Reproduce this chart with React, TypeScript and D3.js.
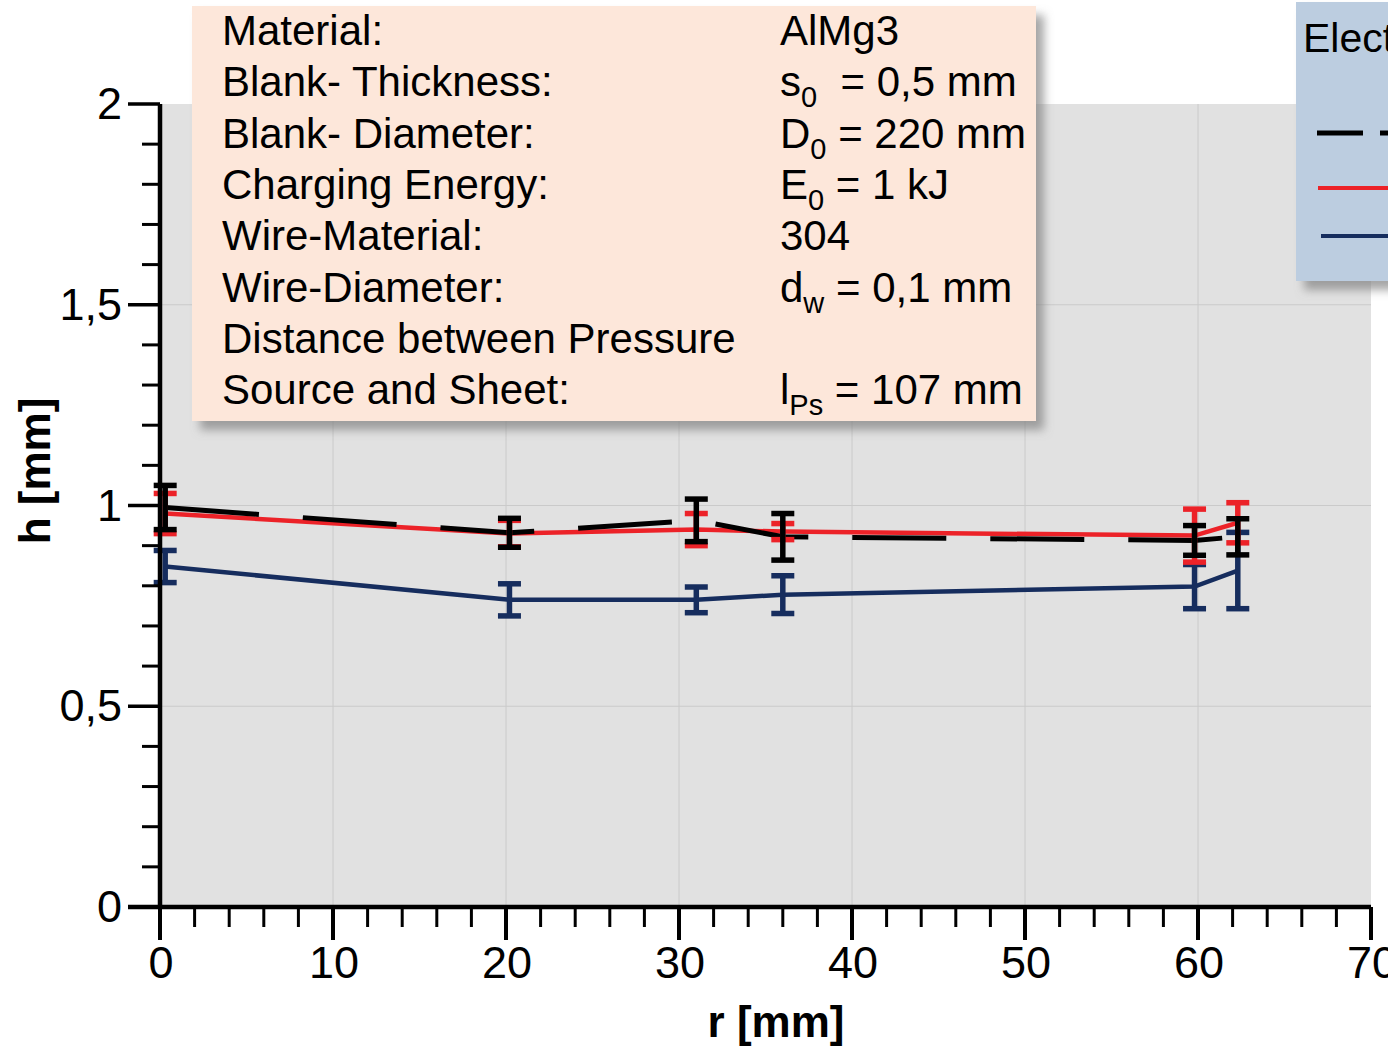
import React from "react";
import * as d3 from "d3";

// measuring points (radius r in mm)
const rValues = [0.3, 20.2, 31, 36, 59.8, 62.3];

// heights h in mm, with error bar half-widths
const blackH = [0.995, 0.932, 0.963, 0.922, 0.913, 0.922];
const blackErr = [0.055, 0.036, 0.053, 0.058, 0.037, 0.045];
const redH = [0.98, 0.93, 0.94, 0.935, 0.925, 0.957];
const redErr = [0.05, 0.033, 0.04, 0.02, 0.066, 0.05];
const blueH = [0.848, 0.765, 0.765, 0.778, 0.798, 0.838];
const blueErr = [0.04, 0.04, 0.032, 0.047, 0.055, 0.095];

const xTicks = [0, 10, 20, 30, 40, 50, 60, 70];
const yTicks = [0, 0.5, 1, 1.5, 2];
const yTickLabels = ["0", "0,5", "1", "1,5", "2"];

const infoLabels = [
  "Material:",
  "Blank- Thickness:",
  "Blank- Diameter:",
  "Charging Energy:",
  "Wire-Material:",
  "Wire-Diameter:",
  "Distance between Pressure",
  "Source and Sheet:",
];
// [main, subscript, rest]
const infoValues = [
  ["AlMg3", "", ""],
  ["s", "0", "  = 0,5 mm"],
  ["D", "0", " = 220 mm"],
  ["E", "0", " = 1 kJ"],
  ["304", "", ""],
  ["d", "w", " = 0,1 mm"],
  ["", "", ""],
  ["l", "Ps", " = 107 mm"],
];

const FONT = "'Liberation Sans', Arial, sans-serif";
const RED = "#ec2228";
const BLUE = "#162d5e";

const App = () => {
  const margin = { left: 160, top: 104, right: 1371, bottom: 907 };
  const x = d3.scaleLinear().domain([0, 70]).range([margin.left, margin.right]);
  const y = d3.scaleLinear().domain([0, 2]).range([margin.bottom, margin.top]);

  const line = d3
    .line<number>()
    .x((_, i) => x(rValues[i]))
    .y((d) => y(d));

  const minorX = d3.range(2, 70, 2).filter((v) => v % 10 !== 0);
  const minorY = d3.range(1, 20).filter((v) => v % 5 !== 0).map((v) => v / 10);

  const errorBars = (vals: number[], errs: number[], color: string) =>
    vals.map((v, i) => {
      const cx = x(rValues[i]);
      const y1 = y(v + errs[i]);
      const y2 = y(v - errs[i]);
      return (
        <g key={i} stroke={color} strokeWidth={5.5}>
          <line x1={cx} x2={cx} y1={y1} y2={y2} />
          <line x1={cx - 11.5} x2={cx + 11.5} y1={y1} y2={y1} />
          <line x1={cx - 11.5} x2={cx + 11.5} y1={y2} y2={y2} />
        </g>
      );
    });

  const rowY = (i: number) => 45 + i * 51.3;

  return (
    <svg
      width={1388}
      height={1047}
      style={{ position: "absolute", left: 0, top: 0, display: "block" }}
      fontFamily={FONT}
    >
      <defs>
        <filter id="shadow" x="-10%" y="-10%" width="130%" height="130%">
          <feDropShadow dx="8" dy="9" stdDeviation="5" floodColor="#808080" floodOpacity="0.7" />
        </filter>
      </defs>
      <rect width={1388} height={1047} fill="#fff" />

      {/* plot area */}
      <rect
        x={margin.left}
        y={margin.top}
        width={margin.right - margin.left}
        height={margin.bottom - margin.top}
        fill="#e1e1e1"
      />
      {xTicks.slice(1, -1).map((t) => (
        <line key={t} x1={x(t)} x2={x(t)} y1={margin.top} y2={margin.bottom} stroke="#cacaca" strokeWidth={1} />
      ))}
      {yTicks.slice(1, -1).map((t) => (
        <line key={t} x1={margin.left} x2={margin.right} y1={y(t)} y2={y(t)} stroke="#cacaca" strokeWidth={1} />
      ))}

      {/* series lines */}
      <path d={line(redH) ?? ""} fill="none" stroke={RED} strokeWidth={4.5} />
      <path d={line(blackH) ?? ""} fill="none" stroke="#000" strokeWidth={5} strokeDasharray="94 44" />
      <path d={line(blueH) ?? ""} fill="none" stroke={BLUE} strokeWidth={4.5} />

      {/* error bars */}
      {errorBars(blueH, blueErr, BLUE)}
      {errorBars(redH, redErr, RED)}
      {errorBars(blackH, blackErr, "#000")}

      {/* axes */}
      <g stroke="#000">
        <line x1={margin.left} x2={margin.left} y1={margin.top} y2={margin.bottom + 2} strokeWidth={4.5} />
        <line x1={128} x2={margin.right} y1={margin.bottom} y2={margin.bottom} strokeWidth={4.5} />
        {yTicks.map((t) => (
          <line key={t} x1={128} x2={margin.left} y1={y(t)} y2={y(t)} strokeWidth={3.5} />
        ))}
        {minorY.map((t) => (
          <line key={t} x1={142} x2={margin.left} y1={y(t)} y2={y(t)} strokeWidth={3} />
        ))}
        {xTicks.map((t) => (
          <line key={t} x1={x(t)} x2={x(t)} y1={margin.bottom} y2={940} strokeWidth={4} />
        ))}
        {minorX.map((t) => (
          <line key={t} x1={x(t)} x2={x(t)} y1={margin.bottom} y2={927} strokeWidth={3} />
        ))}
      </g>
      {yTicks.map((t, i) => (
        <text key={t} x={122} y={y(t) + 15} fontSize={45} textAnchor="end">
          {yTickLabels[i]}
        </text>
      ))}
      {xTicks.map((t) => (
        <text key={t} x={x(t) + 1} y={978} fontSize={45} textAnchor="middle">
          {t}
        </text>
      ))}
      <text x={776} y={1037} fontSize={44} fontWeight="bold" textAnchor="middle">
        r [mm]
      </text>
      <text
        transform="translate(50,471) rotate(-90)"
        fontSize={44}
        fontWeight="bold"
        textAnchor="middle"
      >
        h [mm]
      </text>

      {/* info box */}
      <rect x={192} y={6} width={844} height={415} fill="#fde7da" filter="url(#shadow)" />
      {infoLabels.map((l, i) => (
        <text key={l} x={222} y={rowY(i)} fontSize={42}>
          {l}
        </text>
      ))}
      {infoValues.map((v, i) => (
        <text key={i} x={780} y={rowY(i)} fontSize={42} xmlSpace="preserve">
          {v[0]}
          {v[1] && (
            <tspan fontSize={29} dy={11}>
              {v[1]}
            </tspan>
          )}
          {v[1] ? (
            <tspan dy={-11} style={{ whiteSpace: "pre" }}>
              {v[2]}
            </tspan>
          ) : (
            v[2]
          )}
        </text>
      ))}

      {/* legend */}
      <rect x={1296} y={2} width={120} height={279} fill="#bccde0" filter="url(#shadow)" />
      <text x={1303} y={52} fontSize={41}>
        Electrode
      </text>
      <line x1={1317} x2={1400} y1={133} y2={133} stroke="#000" strokeWidth={5} strokeDasharray="46 17" />
      <line x1={1318} x2={1400} y1={188} y2={188} stroke={RED} strokeWidth={4} />
      <line x1={1321} x2={1400} y1={236} y2={236} stroke={BLUE} strokeWidth={4} />
    </svg>
  );
};

export default App;
